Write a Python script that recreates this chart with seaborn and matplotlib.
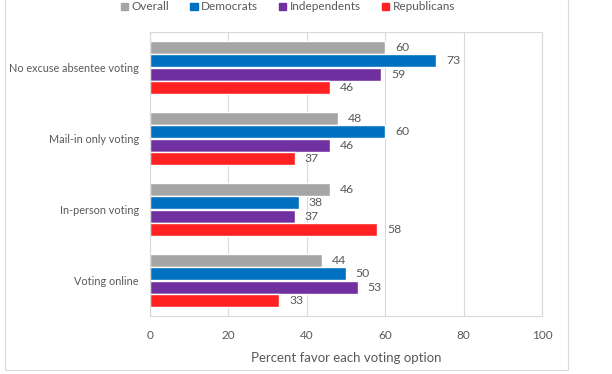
import pandas as pd
import seaborn as sns
import matplotlib.pyplot as plt
from matplotlib.patches import Rectangle

# chart data
options = ['No excuse absentee voting', 'Mail-in only voting', 'In-person voting', 'Voting online']
groups = ['Overall', 'Democrats', 'Independents', 'Republicans']
overall = [60, 48, 46, 44]
democrats = [73, 60, 38, 50]
independents = [59, 46, 37, 53]
republicans = [46, 37, 58, 33]

colors = ['#A5A5A5', '#0070C0', '#7030A0', '#FF2121']
text_color = '#595959'

# build long table for seaborn
rows = []
for g, vals in zip(groups, [overall, democrats, independents, republicans]):
    for opt, v in zip(options, vals):
        rows.append({'Option': opt, 'Group': g, 'Percent': v})
df = pd.DataFrame(rows)

sns.set_style('white')
plt.rcParams['font.family'] = ['Lato', 'DejaVu Sans']

fig = plt.figure(figsize=(6.12, 3.74), dpi=100)
ax = fig.add_axes([150 / 612, 58 / 374, 392 / 612, 284 / 374])

sns.barplot(data=df, y='Option', x='Percent', hue='Group', order=options,
            hue_order=groups, palette=colors, orient='h', width=0.76, gap=0.07,
            saturation=1, ax=ax, legend=False)

# value labels
for container in ax.containers:
    ax.bar_label(container, padding=7, fontsize=8.8, color=text_color)

ax.set_xlim(0, 100)
ax.set_xticks(range(0, 101, 20))
ax.xaxis.grid(True, color='#D9D9D9', linewidth=0.8)
ax.set_axisbelow(True)
for side in ['top', 'right', 'bottom', 'left']:
    ax.spines[side].set_color('#D9D9D9')
    ax.spines[side].set_linewidth(0.8)
ax.tick_params(axis='both', length=0, labelcolor=text_color)
ax.tick_params(axis='x', pad=10, labelsize=8.5)
ax.tick_params(axis='y', pad=8, labelsize=7.8)
ax.set_ylabel('')
ax.set_xlabel('Percent favor each voting option', fontsize=9.5, color=text_color, labelpad=8)

# legend at the top
handles = [Rectangle((0, 0), 1, 1, color=c) for c in colors]
fig.legend(handles, groups, loc='center', bbox_to_anchor=(288 / 612, 367 / 374),
           ncol=4, frameon=False, fontsize=8.5, labelcolor=text_color,
           handlelength=0.6, handleheight=0.6, handletextpad=0.3, columnspacing=1.8)

# outer chart border
fig.patches.append(Rectangle((5 / 612, 4 / 374), 563 / 612, 380 / 374, transform=fig.transFigure,
                             fill=False, edgecolor='#D9D9D9', linewidth=0.8))

fig.savefig('out.png', dpi=100)
